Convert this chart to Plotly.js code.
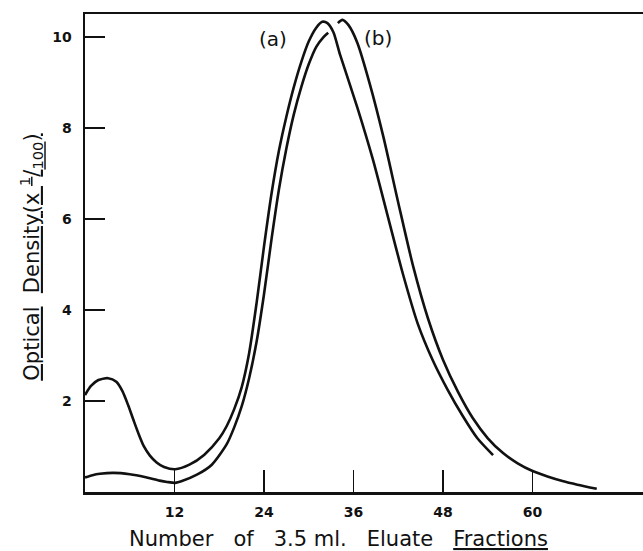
<!DOCTYPE html>
<html>
<head>
<meta charset="utf-8">
<script src="https://cdn.plot.ly/plotly-3.0.1.min.js"></script>
<style>html,body{margin:0;padding:0;background:#fff;}</style>
</head>
<body>
<div id="chart" style="width:643px;height:551px;"></div>
<script>
// Curve (a): early bump, rises on the outside, peaks first, descends on the inside
const curveA_x = [0, 0.8, 1.8, 3.1, 4.2, 5.0, 5.8, 6.5, 7.2, 7.9, 8.7, 9.6, 10.6, 12.1, 14, 16, 18, 19, 20, 21, 22, 23, 24, 25, 26, 27, 28, 29, 30, 31, 31.8, 32.5, 33.3, 34.2, 36.5, 38.6, 40.6, 42.6, 44.6, 46.6, 48.6, 50.6, 52.6, 54.7];
const curveA_y = [2.13, 2.33, 2.46, 2.5, 2.42, 2.22, 1.9, 1.58, 1.27, 1.0, 0.8, 0.65, 0.55, 0.5, 0.6, 0.82, 1.18, 1.45, 1.82, 2.3, 3.05, 4.15, 5.4, 6.55, 7.5, 8.25, 8.9, 9.45, 9.9, 10.2, 10.33, 10.3, 10.1, 9.6, 8.45, 7.3, 6.05, 4.8, 3.7, 2.9, 2.25, 1.68, 1.18, 0.81];

// Curve (b): low start, rises on the inside, peaks second, descends on the outside
const curveB_x = [0, 1, 2, 3.8, 6, 8, 10, 11, 12.1, 13, 15, 17, 19, 20, 21, 22, 23, 24, 25, 26, 27, 28, 29, 30, 31, 32, 32.6, null, 33.9, 34.5, 35.3, 36.5, 38.2, 40, 42, 44, 46, 48, 50, 52, 54, 56, 58, 60, 62, 64, 66, 68.6];
const curveB_y = [0.32, 0.37, 0.4, 0.42, 0.39, 0.33, 0.25, 0.22, 0.2, 0.24, 0.38, 0.6, 1.05, 1.42, 1.88, 2.5, 3.3, 4.35, 5.55, 6.65, 7.55, 8.3, 8.9, 9.4, 9.78, 10.0, 10.09, null, 10.3, 10.37, 10.26, 9.87, 8.95, 7.8, 6.35, 4.95, 3.8, 2.9, 2.2, 1.62, 1.18, 0.86, 0.63, 0.46, 0.34, 0.24, 0.16, 0.07];

const xTicks = [12, 24, 36, 48, 60];
const yTicks = [2, 4, 6, 8, 10];
const curveLabels = ['(a)', '(b)'];
const labelX = [25.2, 39.3];
const labelY = [9.96, 9.98];

const FONT = 'DejaVu Sans, sans-serif';
const INK = '#111';

const lineStyle = {color: INK, width: 2.6, shape: 'spline', smoothing: 0.7};
const traces = [
  {x: curveA_x, y: curveA_y, mode: 'lines', line: lineStyle, connectgaps: false, hoverinfo: 'skip', name: '(a)'},
  {x: curveB_x, y: curveB_y, mode: 'lines', line: lineStyle, connectgaps: false, hoverinfo: 'skip', name: '(b)'}
];

const annotations = curveLabels.map((t, i) => ({
  text: t, x: labelX[i], y: labelY[i], xref: 'x', yref: 'y',
  showarrow: false, font: {family: FONT, size: 20, color: INK}
}));
annotations.push({
  text: 'Number   of   3.5 ml.   Eluate   <u>Fractions</u>',
  xref: 'paper', yref: 'paper', x: 0.455, y: -0.098, xanchor: 'center', yanchor: 'middle',
  showarrow: false, font: {family: FONT, size: 21, color: INK}
});
annotations.push({
  text: '<u>Optical</u>  <u>Density</u><u>(x <sup>1</sup>/<sub>100</sub>)</u>',
  xref: 'paper', yref: 'paper', x: -0.097, y: 0.492, xanchor: 'center', yanchor: 'middle',
  textangle: -90, showarrow: false, font: {family: FONT, size: 21, color: INK}
});

const layout = {
  width: 643, height: 551,
  margin: {l: 85, r: 0, t: 14, b: 59, pad: 0},
  paper_bgcolor: '#fff', plot_bgcolor: '#fff',
  showlegend: false,
  font: {family: FONT, color: INK},
  xaxis: {
    range: [0, 74.8], showgrid: false, zeroline: false,
    showline: true, linecolor: INK, linewidth: 2.5, mirror: true,
    ticks: 'inside', ticklen: 22, tickwidth: 1.6, tickcolor: INK,
    tickvals: xTicks, ticktext: xTicks.map(String),
    tickfont: {family: FONT, size: 14, color: INK, weight: 'bold'},
    ticklabelstandoff: 6
  },
  yaxis: {
    range: [0, 10.5], showgrid: false, zeroline: false,
    showline: true, linecolor: INK, linewidth: 2.5, mirror: false,
    ticks: 'inside', ticklen: 20, tickwidth: 1.6, tickcolor: INK,
    tickvals: yTicks, ticktext: yTicks.map(String),
    tickfont: {family: FONT, size: 14, color: INK, weight: 'bold'},
    ticklabelstandoff: 8
  },
  annotations: annotations
};

Plotly.newPlot('chart', traces, layout, {staticPlot: true, displayModeBar: false});
</script>
</body>
</html>
